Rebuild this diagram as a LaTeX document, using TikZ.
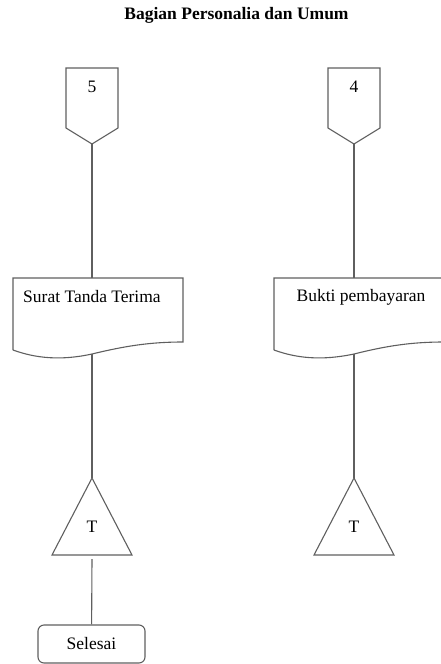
\documentclass[tikz,border=0pt]{standalone}
\usepackage{fontspec}
\setmainfont{Liberation Serif}
\usetikzlibrary{positioning}
\definecolor{garis}{RGB}{95,95,95}

\begin{document}
\begin{tikzpicture}[x=1pt,y=1pt,
						shp/.style={draw=garis,line width=1.1pt},
						txt/.style={font=\fontsize{17.5}{20}\selectfont,inner sep=0pt},
						term/.style={shp,rounded corners=6pt,minimum width=107pt,minimum height=38pt,font=\fontsize{17.5}{20}\selectfont}]
		\useasboundingbox (0,0) rectangle (441,-664);
		\node[txt,font=\bfseries\fontsize{17.5}{20}\selectfont]	(judul)	at (236.5,-15)	{Bagian Personalia dan Umum};

		% penghubung 5 dan 4
		\draw[shp] (66,-68) -- (118,-68) -- (118,-128) -- (92,-144) coordinate (c5) -- (66,-128) -- cycle;
		\node[txt]	(n5)	at (92,-87)	{5};
		\draw[shp] (328,-68) -- (380,-68) -- (380,-128) -- (354,-144) coordinate (c4) -- (328,-128) -- cycle;
		\node[txt]	(n4)	at (354,-87)	{4};

		% dokumen
		\draw[shp] (13,-350) -- (13,-278) -- (92,-278) coordinate (docLt) -- (183,-278) -- (183,-342)
			.. controls (150,-342) and (125,-346) .. (92,-354) coordinate (docLb)
			.. controls (60,-361) and (35,-358) .. (13,-350);
		\node[txt,anchor=west]	(docL)	at (23,-297)	{Surat Tanda Terima};
		\draw[shp] (274,-350) -- (274,-278) -- (354,-278) coordinate (docRt) -- (444,-278) -- (444,-342)
			.. controls (411,-342) and (386,-346) .. (354,-354) coordinate (docRb)
			.. controls (321,-361) and (296,-358) .. (274,-350);
		\node[txt]	(docR)	at (361,-297)	{Bukti pembayaran};

		% arsip
		\draw[shp] (92,-478) coordinate (tLt) -- (132,-555) -- (52,-555) -- cycle;
		\node[txt]	(tL)	at (92,-527)	{T};
		\coordinate (tLb) at (92,-559);
		\draw[shp] (354,-478) coordinate (tRt) -- (394,-555) -- (314,-555) -- cycle;
		\node[txt]	(tR)	at (354,-527)	{T};

		\node[term]	(selesai)	at (91.5,-644)	{Selesai};

		\draw[shp] (c5) -- (docLt);
		\draw[shp] (docLb) -- (tLt);
		\draw[shp] (tLb) -- (selesai);
		\draw[shp] (c4) -- (docRt);
		\draw[shp] (docRb) -- (tRt);
	\end{tikzpicture}
\end{document}
